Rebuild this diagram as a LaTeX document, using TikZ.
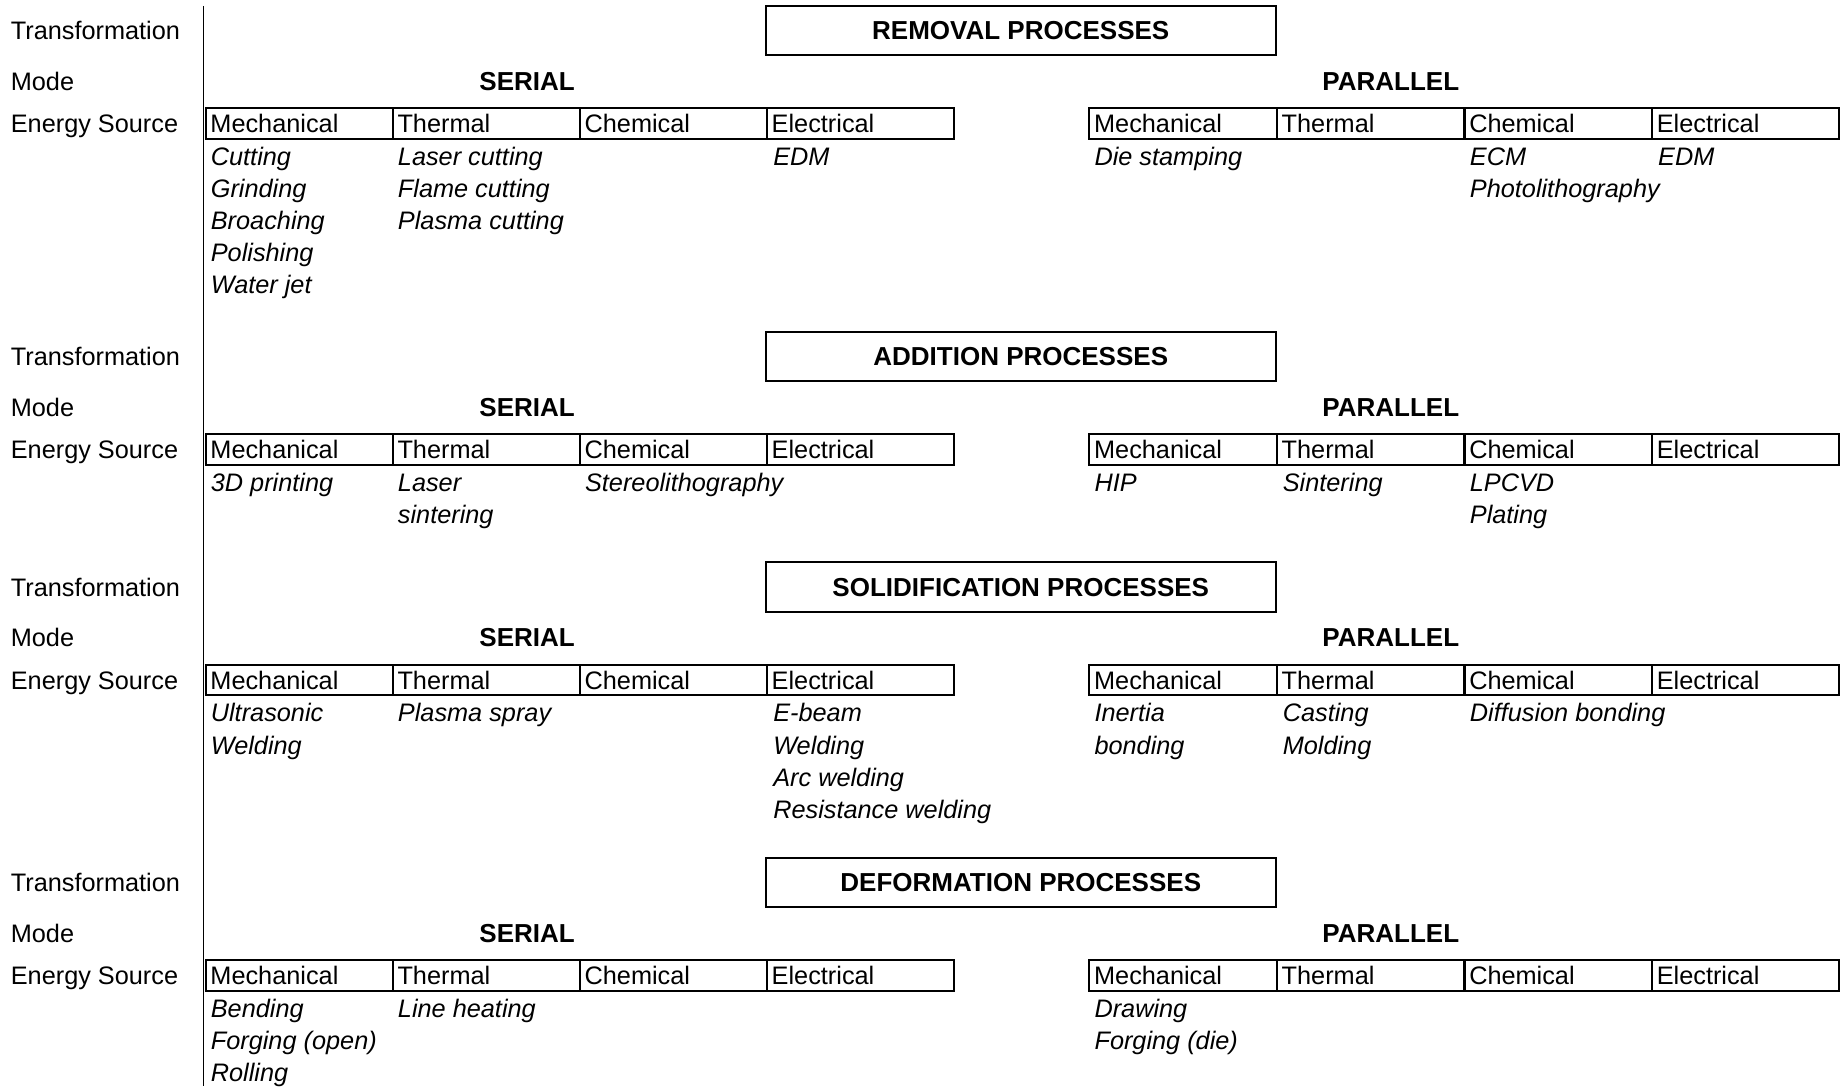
\documentclass[tikz,border=0pt]{standalone}
\usepackage{fontspec}
\setmainfont{Liberation Sans}
\begin{document}
\begin{tikzpicture}[x=1pt,y=-1pt,
  font=\fontsize{21.5pt}{27.3pt}\selectfont,
  lbl/.style={anchor=base west,inner sep=0pt},
  modehead/.style={anchor=base,inner sep=0pt,font=\fontsize{22.1pt}{27.3pt}\selectfont\bfseries},
  titlebox/.style={draw,line width=1.7pt,minimum width=433pt,minimum height=42pt,inner sep=0pt,
    font=\fontsize{22.1pt}{27.3pt}\selectfont\bfseries},
  cell/.style={draw,line width=1.7pt,anchor=west,minimum height=26pt,inner ysep=0pt,inner xsep=4pt,
    text width=151pt,align=left},
  itm/.style={anchor=base west,inner sep=0pt,font=\fontsize{21.5pt}{27.3pt}\selectfont\itshape}]
\useasboundingbox (0,0) rectangle (1568,923);

% left rule
\coordinate (ruletop) at (173,5);
\coordinate (rulebot) at (173,923);
\draw[line width=1.3pt] (ruletop) -- (rulebot);

% one block per transformation: title, row labels, modes and energy-source cells
\foreach \n/\T/\ttl in {rem/26/REMOVAL PROCESSES,add/303/ADDITION PROCESSES,
                        sol/499/SOLIDIFICATION PROCESSES,def/750/DEFORMATION PROCESSES}{
  \node[titlebox] (\n-title) at (867.5,\T) {\ttl};
  \node[lbl] (\n-tr) at (9,{\T+7.7}) {Transformation};
  \node[lbl] (\n-mo) at (9,{\T+50.7}) {Mode};
  \node[lbl] (\n-en) at (9,{\T+86.7}) {Energy Source};
  \node[modehead] (\n-ser) at (448,{\T+50.7}) {SERIAL};
  \node[modehead] (\n-par) at (1182,{\T+50.7}) {PARALLEL};
  \foreach \i/\lab in {0/Mechanical,1/Thermal,2/Chemical,3/Electrical}{
    \node[cell] (\n-s\i) at ({174+159*\i},{\T+79}) {\lab};
    \node[cell] (\n-p\i) at ({925+159.4*\i},{\T+79}) {\lab};
  }
}

% a column of process names under an energy-source cell
\newcommand\proclist[4]{%
  \foreach \t [count=\k from 0] in {#4}{
    \node[itm] (#1-\k) at (#2,{#3+27.3*\k}) {\t};
  }}

% removal
\proclist{rem-s0}{179}{140.5}{Cutting,Grinding,Broaching,Polishing,Water jet}
\proclist{rem-s1}{338}{140.5}{Laser cutting,Flame cutting,Plasma cutting}
\proclist{rem-s3}{657}{140.5}{EDM}
\proclist{rem-p0}{930}{140.5}{Die stamping}
\proclist{rem-p2}{1249}{140.5}{ECM,Photolithography}
\proclist{rem-p3}{1409}{140.5}{EDM}

% addition
\proclist{add-s0}{179}{417.5}{3D printing}
\proclist{add-s1}{338}{417.5}{Laser,sintering}
\proclist{add-s2}{497}{417.5}{Stereolithography}
\proclist{add-p0}{930}{417.5}{HIP}
\proclist{add-p1}{1090}{417.5}{Sintering}
\proclist{add-p2}{1249}{417.5}{LPCVD,Plating}

% solidification
\proclist{sol-s0}{179}{613.5}{Ultrasonic,Welding}
\proclist{sol-s1}{338}{613.5}{Plasma spray}
\proclist{sol-s3}{657}{613.5}{E-beam,Welding,Arc welding,Resistance welding}
\proclist{sol-p0}{930}{613.5}{Inertia,bonding}
\proclist{sol-p1}{1090}{613.5}{Casting,Molding}
\proclist{sol-p2}{1249}{613.5}{Diffusion bonding}

% deformation
\proclist{def-s0}{179}{864.5}{Bending,Forging (open),Rolling}
\proclist{def-s1}{338}{864.5}{Line heating}
\proclist{def-p0}{930}{864.5}{Drawing,Forging (die)}
\end{tikzpicture}
\end{document}
